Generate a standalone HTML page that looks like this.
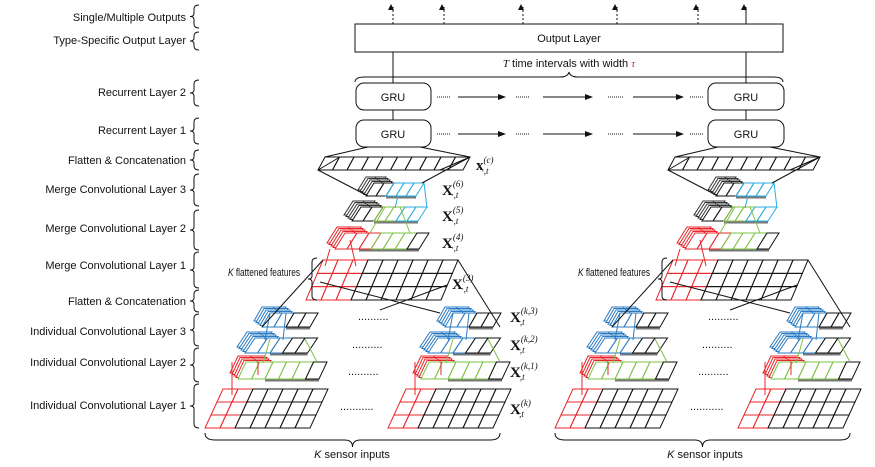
<!DOCTYPE html>
<html><head><meta charset="utf-8"><style>
body{margin:0;background:#fff;width:875px;height:467px;overflow:hidden}
svg{display:block}
text{font-family:"Liberation Sans",sans-serif;font-size:11px;fill:#111}
.x{font-family:"Liberation Serif",serif;font-weight:bold;font-size:15px}
.s{font-family:"Liberation Serif",serif;font-style:italic;font-size:9px;font-weight:normal}
</style></head><body>
<svg id="g" width="875" height="467" viewBox="0 0 875 467" xmlns="http://www.w3.org/2000/svg">
<defs><marker id="a" markerWidth="8" markerHeight="6" refX="7" refY="3" orient="auto"><path d="M0,0L8,3L0,6z" fill="#111"/></marker>
<marker id="b" markerWidth="6" markerHeight="6" refX="3" refY="5" orient="auto-start-reverse"><path d="M0,0L6,3L0,6z" fill="#111"/></marker></defs>
<g text-anchor="end">
<text x="186" y="21">Single/Multiple Outputs</text>
<text x="186" y="44">Type-Specific Output Layer</text>
<text x="186" y="96">Recurrent Layer 2</text>
<text x="186" y="134">Recurrent Layer 1</text>
<text x="186" y="164">Flatten &amp; Concatenation</text>
<text x="186" y="193">Merge Convolutional Layer 3</text>
<text x="186" y="232">Merge Convolutional Layer 2</text>
<text x="186" y="269">Merge Convolutional Layer 1</text>
<text x="186" y="305">Flatten &amp; Concatenation</text>
<text x="186" y="335">Individual Convolutional Layer 3</text>
<text x="186" y="366">Individual Convolutional Layer 2</text>
<text x="186" y="409">Individual Convolutional Layer 1</text>
</g>
<rect x="355" y="24" width="428" height="28" fill="#fff" stroke="#111"/>
<text x="569" y="42" text-anchor="middle">Output Layer</text>
<text x="569" y="67" text-anchor="middle"><tspan font-style="italic" font-family="Liberation Serif">T</tspan> time intervals with width <tspan fill="#c0392b" font-style="italic" font-family="Liberation Serif">τ</tspan></text>
<path d="M355,82 q0,-5 10,-5 L560,77 q8,0 9,-5 q1,5 9,5 L773,77 q10,0 10,5" fill="none" stroke="#111"/>
<rect x="356" y="83" width="75" height="27" rx="8" fill="#fff" stroke="#111"/>
<rect x="708" y="83" width="76" height="27" rx="8" fill="#fff" stroke="#111"/>
<rect x="356" y="120" width="75" height="27" rx="8" fill="#fff" stroke="#111"/>
<rect x="708" y="120" width="76" height="27" rx="8" fill="#fff" stroke="#111"/>
<text x="393" y="101" text-anchor="middle" font-size="12">GRU</text>
<text x="746" y="101" text-anchor="middle" font-size="12">GRU</text>
<text x="393" y="138" text-anchor="middle" font-size="12">GRU</text>
<text x="746" y="138" text-anchor="middle" font-size="12">GRU</text>
<g stroke="#111" fill="none">
<line x1="393" y1="52" x2="393" y2="83"/><line x1="746" y1="52" x2="746" y2="83"/>
<line x1="393" y1="110" x2="393" y2="120"/><line x1="746" y1="110" x2="746" y2="120"/>
<g stroke-dasharray="2,2"><line x1="393" y1="24" x2="393" y2="7" marker-end="url(#b)"/><line x1="444" y1="24" x2="444" y2="7" marker-end="url(#b)"/><line x1="523" y1="24" x2="523" y2="7" marker-end="url(#b)"/><line x1="617" y1="24" x2="617" y2="7" marker-end="url(#b)"/><line x1="698" y1="24" x2="698" y2="7" marker-end="url(#b)"/></g>
<line x1="746" y1="24" x2="746" y2="7" marker-end="url(#b)"/>
<g stroke-dasharray="1,1"><line x1="437" y1="97" x2="450" y2="97"/><line x1="516" y1="97" x2="530" y2="97"/><line x1="608" y1="97" x2="623" y2="97"/><line x1="690" y1="97" x2="704" y2="97"/>
<line x1="437" y1="134" x2="450" y2="134"/><line x1="516" y1="134" x2="530" y2="134"/><line x1="608" y1="134" x2="623" y2="134"/><line x1="690" y1="134" x2="704" y2="134"/></g>
<line x1="458" y1="97" x2="505" y2="97" marker-end="url(#a)"/><line x1="543" y1="97" x2="592" y2="97" marker-end="url(#a)"/><line x1="633" y1="97" x2="683" y2="97" marker-end="url(#a)"/>
<line x1="458" y1="134" x2="505" y2="134" marker-end="url(#a)"/><line x1="543" y1="134" x2="592" y2="134" marker-end="url(#a)"/><line x1="633" y1="134" x2="683" y2="134" marker-end="url(#a)"/>
</g>
<g font-size="10"><text x="340" y="410">...........</text>
<text x="348" y="375">..........</text><text x="352" y="348">..........</text><text x="358" y="320">..........</text>
<text x="690" y="410">...........</text><text x="698" y="375">..........</text><text x="702" y="348">..........</text><text x="708" y="320">..........</text></g>
<g id="dyn"></g>
<g id="lbl">
<text class="x" x="476" y="170">x<tspan class="s" dy="-7">(c)</tspan><tspan class="s" dx="-12" dy="11">·,t</tspan></text>
<text class="x" x="442" y="195">X<tspan class="s" dy="-8">(6)</tspan><tspan class="s" dx="-12" dy="11">·,t</tspan></text>
<text class="x" x="442" y="221">X<tspan class="s" dy="-8">(5)</tspan><tspan class="s" dx="-12" dy="11">·,t</tspan></text>
<text class="x" x="442" y="248">X<tspan class="s" dy="-8">(4)</tspan><tspan class="s" dx="-12" dy="11">·,t</tspan></text>
<text class="x" x="452" y="289">X<tspan class="s" dy="-8">(3)</tspan><tspan class="s" dx="-12" dy="11">·,t</tspan></text>
<text class="x" x="510" y="322">X<tspan class="s" dy="-8">(k,3)</tspan><tspan class="s" dx="-20" dy="11">·,t</tspan></text>
<text class="x" x="510" y="350">X<tspan class="s" dy="-8">(k,2)</tspan><tspan class="s" dx="-20" dy="11">·,t</tspan></text>
<text class="x" x="510" y="377">X<tspan class="s" dy="-8">(k,1)</tspan><tspan class="s" dx="-20" dy="11">·,t</tspan></text>
<text class="x" x="510" y="414">X<tspan class="s" dy="-8">(k)</tspan><tspan class="s" dx="-14" dy="11">·,t</tspan></text>
</g>
<text x="228" y="276" font-size="8" textLength="72" lengthAdjust="spacingAndGlyphs"><tspan font-style="italic">K</tspan> flattened features</text>
<text x="578" y="276" font-size="8" textLength="72" lengthAdjust="spacingAndGlyphs"><tspan font-style="italic">K</tspan> flattened features</text>
<text x="352" y="458" text-anchor="middle" font-size="12"><tspan font-style="italic">K</tspan> sensor inputs</text>
<text x="705" y="458" text-anchor="middle" font-size="12"><tspan font-style="italic">K</tspan> sensor inputs</text>
</svg>
<script>
var NS="http://www.w3.org/2000/svg",G=document.getElementById("dyn");
function el(t,a){var e=document.createElementNS(NS,t);for(var k in a)e.setAttribute(k,a[k]);G.appendChild(e);return e;}
function ln(x1,y1,x2,y2,c,w){el("line",{x1:x1,y1:y1,x2:x2,y2:y2,stroke:c||"#111","stroke-width":w||1});}
var R="#e8262b",Gn="#7dc242",B="#2a7bc4",LB="#29abe2",K="#111";
function para(x,y,cols,cw,h,skew,rows,colf,stack,sc,sn){
 if(stack){for(var s=stack;s>0;s--){para(x-s*2,y-s*1.5,sn||2,cw,h,skew,1,function(){return sc||"#555";},0);}}
 var rh=h/rows;
 el("polygon",{points:[x,y,x+cols*cw,y,x+cols*cw+skew,y-h,x+skew,y-h].join(","),fill:"#fff",stroke:"none"});
 if(stack){el("line",{x1:x+cw*2,y1:y+1.5,x2:x+cols*cw,y2:y+1.5,stroke:"#777","stroke-width":2});}
 for(var c=0;c<cols;c++){var col=colf(c);
  for(var r=0;r<rows;r++){var y0=y-r*rh,y1=y-(r+1)*rh,s0=skew*r/rows,s1=skew*(r+1)/rows;
   el("polygon",{points:[x+c*cw+s0,y0,x+(c+1)*cw+s0,y0,x+(c+1)*cw+s1,y1,x+c*cw+s1,y1].join(","),fill:"none",stroke:col,"stroke-width":1});}}
}
function brace(x1,x2,y,d){el("path",{d:"M"+x1+","+(y-d)+" q0,"+d+" 10,"+d+" L"+((x1+x2)/2-8)+","+y+" q8,0 8,"+d+" q0,-"+d+" 8,-"+d+" L"+(x2-10)+","+y+" q10,0 10,-"+d,fill:"none",stroke:K});}
function vbrace(x,y1,y2){var m=(y1+y2)/2;el("path",{d:"M"+(x+5)+","+y1+" q-5,0 -5,4 L"+x+","+(m-3)+" q0,3 -4,3 q4,0 4,3 L"+x+","+(y2-4)+" q0,4 5,4",fill:"none",stroke:K});}
[[5,28],[32,50],[80,106],[118,144],[150,170],[174,206],[210,250],[252,288],[290,312],[314,346],[348,382],[384,428]].forEach(function(p){vbrace(194,p[0],p[1]);});
function sensor(sx){
 para(sx,428,7,15,39,18,3,function(c){return c<2?R:K;});
 para(sx+33,379,6,13.5,17,8,1,function(c){return c<5?Gn:K;},4,R,2);
 ln(sx+27,362,sx+27,395,R);ln(sx+53,362,sx+53,375,R);
 para(sx+40,353,5,12.5,15,10,1,function(c){return c<3?B:K;},4,B,2);
 ln(sx+65,339,sx+58,363,Gn);ln(sx+100,339,sx+112,362,Gn);
 para(sx+57,327,4,12,14,8,1,function(c){return c<2?B:K;},4,B,2);
 ln(sx+65,313,sx+60,340,B);ln(sx+81,313,sx+78,340,B);
}
function block(o){
 sensor(205+o);sensor(388+o);
 brace(205+o,500+o,440,7);
 para(306+o,300,9,15,40,17,3,function(c){return c<3?R:K;});
 ln(323+o,260,262+o,327);ln(458+o,260,500+o,327);ln(320+o,282,440+o,313);ln(447+o,285,380+o,310);
 vbrace(312+o,258,300);
 para(335+o,249,7,12,16,10,1,function(c){return c<3?R:(c<6?Gn:K);},4,R,2);
 ln(325+o,266,330+o,249,R);ln(356+o,266,350+o,240,R);
 para(352+o,221,6,11,14,9,1,function(c){return c<2?K:(c<4?Gn:LB);},4,"#333",2);
 ln(370+o,233,385+o,207,Gn);ln(410+o,233,400+o,207,Gn);
 para(366+o,196,5,10,13,8,1,function(c){return c<2?K:LB;},4,"#333",2);
 ln(395+o,208,398+o,196,LB);ln(427+o,208,424+o,183,LB);
 para(318+o,170,10,14.5,13,7,1,function(c){return K;});
 ln(318+o,170,368+o,196);ln(470+o,157,422+o,183);
 ln(318+o,170,340+o,157);ln(440+o,170,470+o,157);
 ln(368+o,147,325+o,157);ln(420+o,147,470+o,157);
}
block(0);block(350);
</script>
</body></html>
